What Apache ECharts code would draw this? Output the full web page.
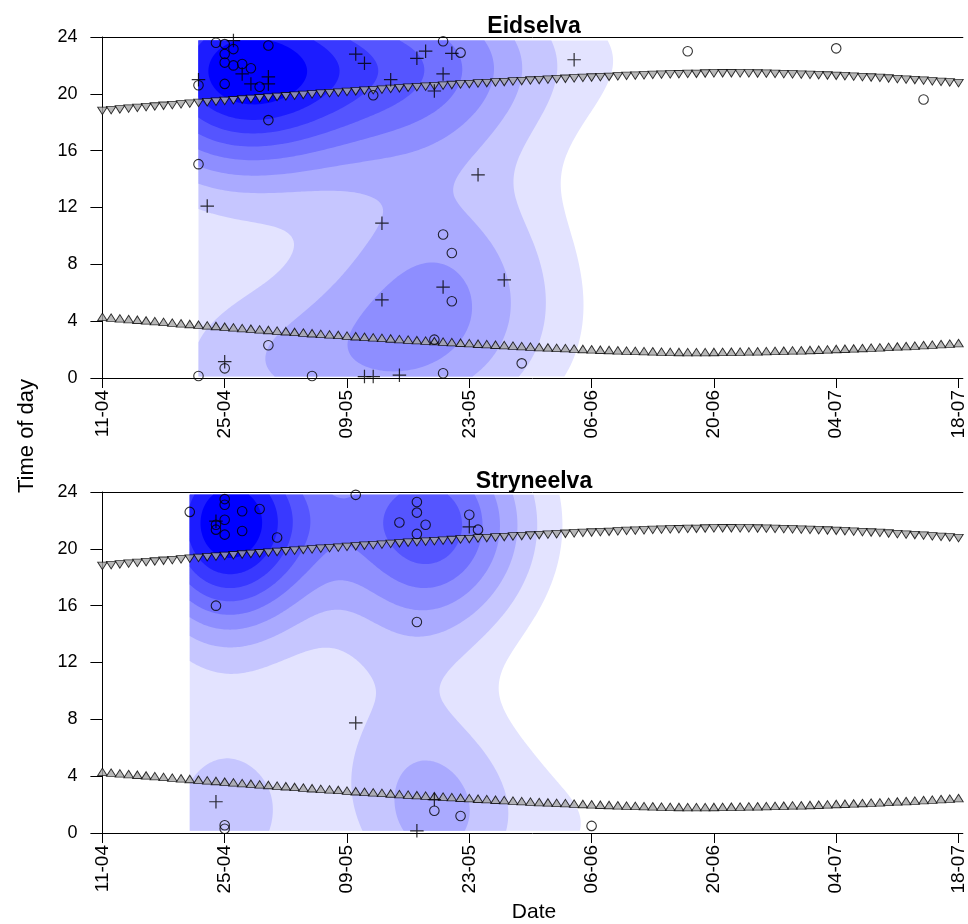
<!DOCTYPE html>
<html><head><meta charset="utf-8">
<script src="https://cdn.jsdelivr.net/npm/echarts@6/dist/echarts.min.js"></script>
<style>html,body{margin:0;padding:0;background:#fff}#c{width:968px;height:924px}</style>
</head><body><div id="c"></div>
<script>
// ---- data ----
const tickLabels = ['11-04','25-04','09-05','23-05','06-06','20-06','04-07','18-07'];
const tickDays = [0,14,28,42,56,70,84,98];
const panelTitles = ['Eidselva','Stryneelva'];

// [day since 11-04, hour]
const eidCircles = [[13,23.6],[14,23.5],[15,23.15],[19,23.4],[14,22.8],[14,22.2],[15,22.0],[16,22.1],[17,21.8],[11,20.6],[14,20.7],[18,20.5],[19,18.15],[31,19.9],[39,23.7],[41,22.9],[67,23.0],[84,23.2],[94,19.6],[11,15.05],[39,10.1],[40,8.8],[40,5.4],[19,2.3],[38,2.7],[14,0.68],[48,1.03],[11,0.14],[24,0.14],[39,0.33]];
const eidPluses = [[15,23.75],[11,21.0],[16,21.4],[17,20.7],[19,21.2],[19,20.7],[29,22.8],[30,22.15],[33,21.0],[36,22.5],[37,23.0],[40,22.85],[39,21.4],[38,20.2],[54,22.4],[12,12.1],[43,14.3],[32,10.9],[46,6.9],[39,6.4],[32,5.5],[14,1.15],[30,0.1],[31,0.1],[34,0.2]];
const strCircles = [[14,23.5],[14,23.1],[10,22.6],[16,22.65],[18,22.8],[14,22.05],[13,21.7],[13,21.35],[14,21.0],[16,21.25],[20,20.8],[13,16.0],[29,23.8],[36,23.3],[36,22.55],[34,21.85],[37,21.7],[36,21.05],[42,22.4],[43,21.35],[36,14.85],[14,0.55],[14,0.3],[38,1.57],[41,1.2],[56,0.5]];
const strPluses = [[13,21.95],[42,21.55],[29,7.75],[13,2.2],[38,2.35],[36,0.15]];

// one value per day from 11-04 (day 0) to 18-07 (day 98)
const sunsetHours = [18.80,18.85,18.90,18.96,19.01,19.06,19.11,19.16,19.21,19.26,
 19.31,19.36,19.41,19.45,19.50,19.55,19.60,19.64,19.69,19.73,
 19.78,19.83,19.87,19.92,19.96,20.01,20.05,20.09,20.14,20.18,
 20.22,20.26,20.30,20.35,20.39,20.43,20.47,20.51,20.54,20.58,
 20.62,20.66,20.69,20.73,20.76,20.80,20.83,20.87,20.90,20.94,
 20.97,21.00,21.03,21.06,21.09,21.12,21.15,21.18,21.20,21.23,
 21.26,21.28,21.30,21.33,21.35,21.37,21.38,21.40,21.41,21.43,
 21.44,21.45,21.45,21.44,21.44,21.43,21.42,21.40,21.39,21.37,
 21.35,21.33,21.31,21.29,21.27,21.24,21.21,21.18,21.15,21.12,
 21.08,21.04,21.00,20.97,20.93,20.88,20.84,20.80,20.75];
const sunriseHours = [4.30,4.25,4.20,4.15,4.10,4.05,4.00,3.95,3.90,3.85,
 3.80,3.75,3.70,3.66,3.61,3.56,3.51,3.47,3.42,3.38,
 3.33,3.29,3.24,3.20,3.15,3.11,3.07,3.03,2.98,2.94,
 2.90,2.86,2.82,2.78,2.74,2.70,2.66,2.63,2.59,2.56,
 2.52,2.48,2.45,2.41,2.38,2.34,2.31,2.28,2.24,2.21,
 2.18,2.15,2.12,2.10,2.07,2.04,2.02,1.99,1.97,1.95,
 1.93,1.91,1.89,1.88,1.86,1.84,1.83,1.82,1.82,1.82,
 1.83,1.84,1.85,1.86,1.87,1.88,1.89,1.91,1.92,1.94,
 1.95,1.97,1.99,2.01,2.04,2.06,2.08,2.11,2.14,2.16,
 2.19,2.22,2.25,2.28,2.32,2.35,2.39,2.42,2.46];

const levelColors = ['#E3E3FF','#C6C6FF','#AAAAFF','#8E8EFF','#7171FF','#5555FF','#3939FF','#1C1CFF','#0000FF'];
// contour levels as fractions of each panel's peak density
const levelFractions = [[0.125,0.215,0.31,0.40,0.50,0.60,0.70,0.80,0.90],[0.105,0.2,0.3,0.4,0.5,0.6,0.7,0.8,0.9]];
// smoothing multipliers on the normal-reference bandwidth [x, y] per panel
const bwScale = [[1.13,1.1],[1.0,1.04]];

// ---- density (2D kernel density like MASS::kde2d) ----
function q7(s,p){const h=(s.length-1)*p,lo=Math.floor(h),hi=Math.ceil(h);return s[lo]+(h-lo)*(s[hi]-s[lo]);}
function bwNrd(v){
  const n=v.length,m=v.reduce((a,b)=>a+b,0)/n;
  const sd=Math.sqrt(v.reduce((a,b)=>a+(b-m)*(b-m),0)/(n-1));
  const s=[...v].sort((a,b)=>a-b);
  const iqr=q7(s,0.75)-q7(s,0.25);
  return 4*1.06*Math.min(sd,iqr/1.34)*Math.pow(n,-0.2);
}
function buildKde(pts,nx,ny,sc){
  const xs=pts.map(p=>p[0]),ys=pts.map(p=>p[1]);
  const hx=bwNrd(xs)/4*sc[0],hy=bwNrd(ys)/4*sc[1];
  const x0=Math.min(...xs),x1=Math.max(...xs),y0=Math.min(...ys),y1=Math.max(...ys);
  const gx=[],gy=[];
  for(let i=0;i<nx;i++)gx.push(x0+(x1-x0)*i/(nx-1));
  for(let j=0;j<ny;j++)gy.push(y0+(y1-y0)*j/(ny-1));
  const z=[];let zmax=0;
  for(let j=0;j<ny;j++){const row=new Float64Array(nx);
    for(let i=0;i<nx;i++){let s=0;
      for(const p of pts){const u=(gx[i]-p[0])/hx,v=(gy[j]-p[1])/hy;s+=Math.exp(-0.5*(u*u+v*v));}
      row[i]=s;if(s>zmax)zmax=s;}
    z.push(row);}
  return {gx,gy,z,zmax};
}
const kdes=[buildKde(eidCircles.concat(eidPluses),220,170,bwScale[0]),buildKde(strCircles.concat(strPluses),220,170,bwScale[1])];

function levelPath(K,t,px,py){
  const z=K.z,nx=K.gx.length,ny=K.gy.length;
  const f=v=>v.toFixed(2);
  const parts=[];
  const rect=(i0,i1,j)=>'M'+f(px[i0])+' '+f(py[j])+'L'+f(px[i1])+' '+f(py[j])+'L'+f(px[i1])+' '+f(py[j+1])+'L'+f(px[i0])+' '+f(py[j+1])+'Z';
  for(let j=0;j<ny-1;j++){
    let run=-1;
    for(let i=0;i<nx-1;i++){
      const a=z[j][i],b=z[j][i+1],c=z[j+1][i+1],e=z[j+1][i];
      if(a>=t&&b>=t&&c>=t&&e>=t){if(run<0)run=i;continue;}
      if(run>=0){parts.push(rect(run,i,j));run=-1;}
      if(a<t&&b<t&&c<t&&e<t)continue;
      const cs=[[px[i],py[j],a],[px[i+1],py[j],b],[px[i+1],py[j+1],c],[px[i],py[j+1],e]];
      const out=[];
      for(let k=0;k<4;k++){const p=cs[k],q=cs[(k+1)%4];const pin=p[2]>=t,qin=q[2]>=t;
        if(pin)out.push(p);
        if(pin!==qin){const r=(t-p[2])/(q[2]-p[2]);out.push([p[0]+r*(q[0]-p[0]),p[1]+r*(q[1]-p[1])]);}}
      parts.push('M'+out.map(p=>f(p[0])+' '+f(p[1])).join('L')+'Z');
    }
    if(run>=0)parts.push(rect(run,nx-1,j));
  }
  return parts.join('');
}
function densitySeries(p){
  return {type:'custom',xAxisIndex:p*2,yAxisIndex:p,data:[[20,12]],silent:true,z:1,clip:true,
    renderItem:function(params,api){
      const K=kdes[p];
      const px=K.gx.map(x=>api.coord([x,K.gy[0]])[0]);
      const py=K.gy.map(y=>api.coord([K.gx[0],y])[1]);
      const children=levelColors.map((col,k)=>({type:'path',shape:{pathData:levelPath(K,K.zmax*levelFractions[p][k],px,py)},style:{fill:col,stroke:null}}));
      return {type:'group',children};
    }};
}

const FONT='"Liberation Sans", Arial, sans-serif';
const plusPath='path://M-0.09,-1L0.09,-1L0.09,-0.09L1,-0.09L1,0.09L0.09,0.09L0.09,1L-0.09,1L-0.09,0.09L-1,0.09L-1,-0.09L-0.09,-0.09Z';
const gridTops=[37,492];
const grids=[],xAxes=[],yAxes=[],series=[];
[ [eidCircles,eidPluses],[strCircles,strPluses] ].forEach((pd,p)=>{
  grids.push({left:102.4,top:gridTops[p],width:865.6,height:341});
  xAxes.push({gridIndex:p,type:'value',min:0,max:98.5,position:'bottom',
    axisLine:{onZero:false,lineStyle:{color:'#000',width:1}},
    axisTick:{customValues:tickDays,length:10,lineStyle:{color:'#000',width:1}},
    axisLabel:{customValues:tickDays,rotate:90,margin:12,fontSize:19,fontFamily:FONT,color:'#000',
      formatter:v=>{const i=tickDays.indexOf(Math.round(v));return i>=0?tickLabels[i]:'';}},
    splitLine:{show:false}});
  xAxes.push({gridIndex:p,type:'value',min:0,max:98.5,position:'top',
    axisLine:{show:true,onZero:false,lineStyle:{color:'#000',width:1}},
    axisTick:{show:false},axisLabel:{show:false},splitLine:{show:false}});
  yAxes.push({gridIndex:p,type:'value',min:0,max:24,interval:4,
    axisLine:{show:true,onZero:false,lineStyle:{color:'#000',width:1}},
    axisTick:{show:true,length:12,lineStyle:{color:'#000',width:1}},
    axisLabel:{margin:25,fontSize:18,fontFamily:FONT,color:'#000'},
    splitLine:{show:false}});
  series.push(densitySeries(p));
  series.push({type:'scatter',xAxisIndex:p*2,yAxisIndex:p,z:2,silent:true,
    data:sunsetHours.map((h,d)=>[d,h]),symbol:'triangle',symbolRotate:180,symbolSize:[9.5,7.5],
    itemStyle:{color:'#A6A6A6',borderColor:'#000',borderWidth:0.9}});
  series.push({type:'scatter',xAxisIndex:p*2,yAxisIndex:p,z:2,silent:true,
    data:sunriseHours.map((h,d)=>[d,h]),symbol:'triangle',symbolSize:[9.5,7.5],
    itemStyle:{color:'#A6A6A6',borderColor:'#000',borderWidth:0.9}});
  series.push({type:'scatter',xAxisIndex:p*2,yAxisIndex:p,z:3,silent:true,
    data:pd[0],symbol:'circle',symbolSize:9.5,
    itemStyle:{color:'rgba(255,255,255,0)',borderColor:'#000',borderWidth:1.1}});
  series.push({type:'scatter',xAxisIndex:p*2,yAxisIndex:p,z:3,silent:true,
    data:pd[1],symbol:plusPath,symbolSize:13.5,itemStyle:{color:'#000'}});
});

const chart=echarts.init(document.getElementById('c'),null,{renderer:'canvas'});
chart.setOption({
  animation:false,backgroundColor:'#fff',
  grid:grids,xAxis:xAxes,yAxis:yAxes,series:series,
  graphic:[
    {type:'text',x:534,y:27,style:{text:panelTitles[0],font:'bold 23px '+FONT,fill:'#000',textAlign:'center',textVerticalAlign:'middle'}},
    {type:'text',x:534,y:482,style:{text:panelTitles[1],font:'bold 23px '+FONT,fill:'#000',textAlign:'center',textVerticalAlign:'middle'}},
    {type:'text',x:27,y:436,rotation:Math.PI/2,style:{text:'Time of day',font:'22px '+FONT,fill:'#000',textAlign:'center',textVerticalAlign:'middle'}},
    {type:'text',x:534,y:912,style:{text:'Date',font:'21px '+FONT,fill:'#000',textAlign:'center',textVerticalAlign:'middle'}}
  ]
});
</script></body></html>
